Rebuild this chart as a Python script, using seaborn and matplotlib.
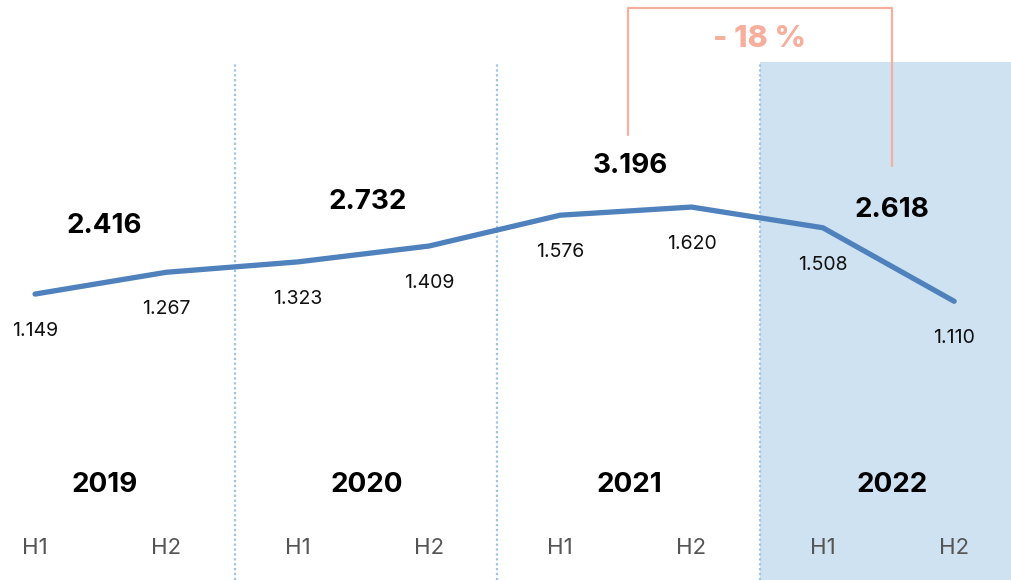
import numpy as np
import pandas as pd
import seaborn as sns
import matplotlib.pyplot as plt
import matplotlib.transforms as mtransforms

## Data
years = ["2019", "2020", "2021", "2022"]
halves = ["H1", "H2"]
values = [1.149, 1.267, 1.323, 1.409, 1.576, 1.620, 1.508, 1.110]
value_labels = ["1.149", "1.267", "1.323", "1.409", "1.576", "1.620", "1.508", "1.110"]

totals = [values[2 * k] + values[2 * k + 1] for k in range(len(years))]
change = (totals[3] - totals[2]) / totals[2] * 100

df = pd.DataFrame({"pos": np.arange(len(values)), "value": values})

## Styling
sns.set_theme(style="white")
plt.rcParams["font.family"] = ["Inter", "DejaVu Sans"]
line_col = "#4F81BD"
shade_col = "#CFE2F1"
sep_col = "#9DC3E6"
accent = "#F8AE9C"

fig = plt.figure(figsize=(10.11, 5.8), dpi=100)
ax = fig.add_axes([0, 0, 1, 1])
ax.set_xlim(-0.267, 7.433)
ax.set_ylim(-0.399, 2.741)
ax.set_axis_off()

yfrac = mtransforms.blended_transform_factory(ax.transData, ax.transAxes)

# shaded last year and dotted separators
ax.axvspan(5.52, 7.6, ymin=0, ymax=0.893, color=shade_col, lw=0, zorder=0)
for k in range(1, len(years)):
    ax.axvline(2 * k - 0.48, ymin=0, ymax=0.893, color=sep_col, lw=1.6,
               ls=(0, (1, 1.2)), zorder=1)

sns.lineplot(data=df, x="pos", y="value", ax=ax, color=line_col, lw=3.8,
             solid_capstyle="round", zorder=3)

for i, (v, lab) in enumerate(zip(values, value_labels)):
    ax.annotate(lab, (i, v), xytext=(0, -26.5), textcoords="offset points",
                ha="center", va="center", fontsize=14, color="#111111")

# yearly totals, placed proportional to total
for k, t in enumerate(totals):
    ty = 1.52 + (t - totals[0]) * 0.41
    ax.text(2 * k + 0.53, ty, f"{t:.3f}", ha="center", va="center",
            fontsize=20, fontweight="bold", color="black", zorder=4)
    ax.text(2 * k + 0.53, 0.164, years[k], transform=yfrac, ha="center",
            va="center", fontsize=20, fontweight="bold", color="black")
    for h, hl in enumerate(halves):
        ax.text(2 * k + h, 0.055, hl, transform=yfrac, ha="center",
                va="center", fontsize=16, color="#555555")

# change bracket
bx = [4.516, 4.516, 6.527, 6.527]
by = [1 - 135 / 580, 1 - 8 / 580, 1 - 8 / 580, 1 - 166 / 580]
ax.plot(bx, by, transform=yfrac, color=accent, lw=1.6, zorder=2)
ax.text(5.52, 1 - 39 / 580, f"- {abs(change):.0f} %", transform=yfrac,
        ha="center", va="center", fontsize=22, fontweight="heavy", color=accent)

fig.savefig("out.png", dpi=100)
